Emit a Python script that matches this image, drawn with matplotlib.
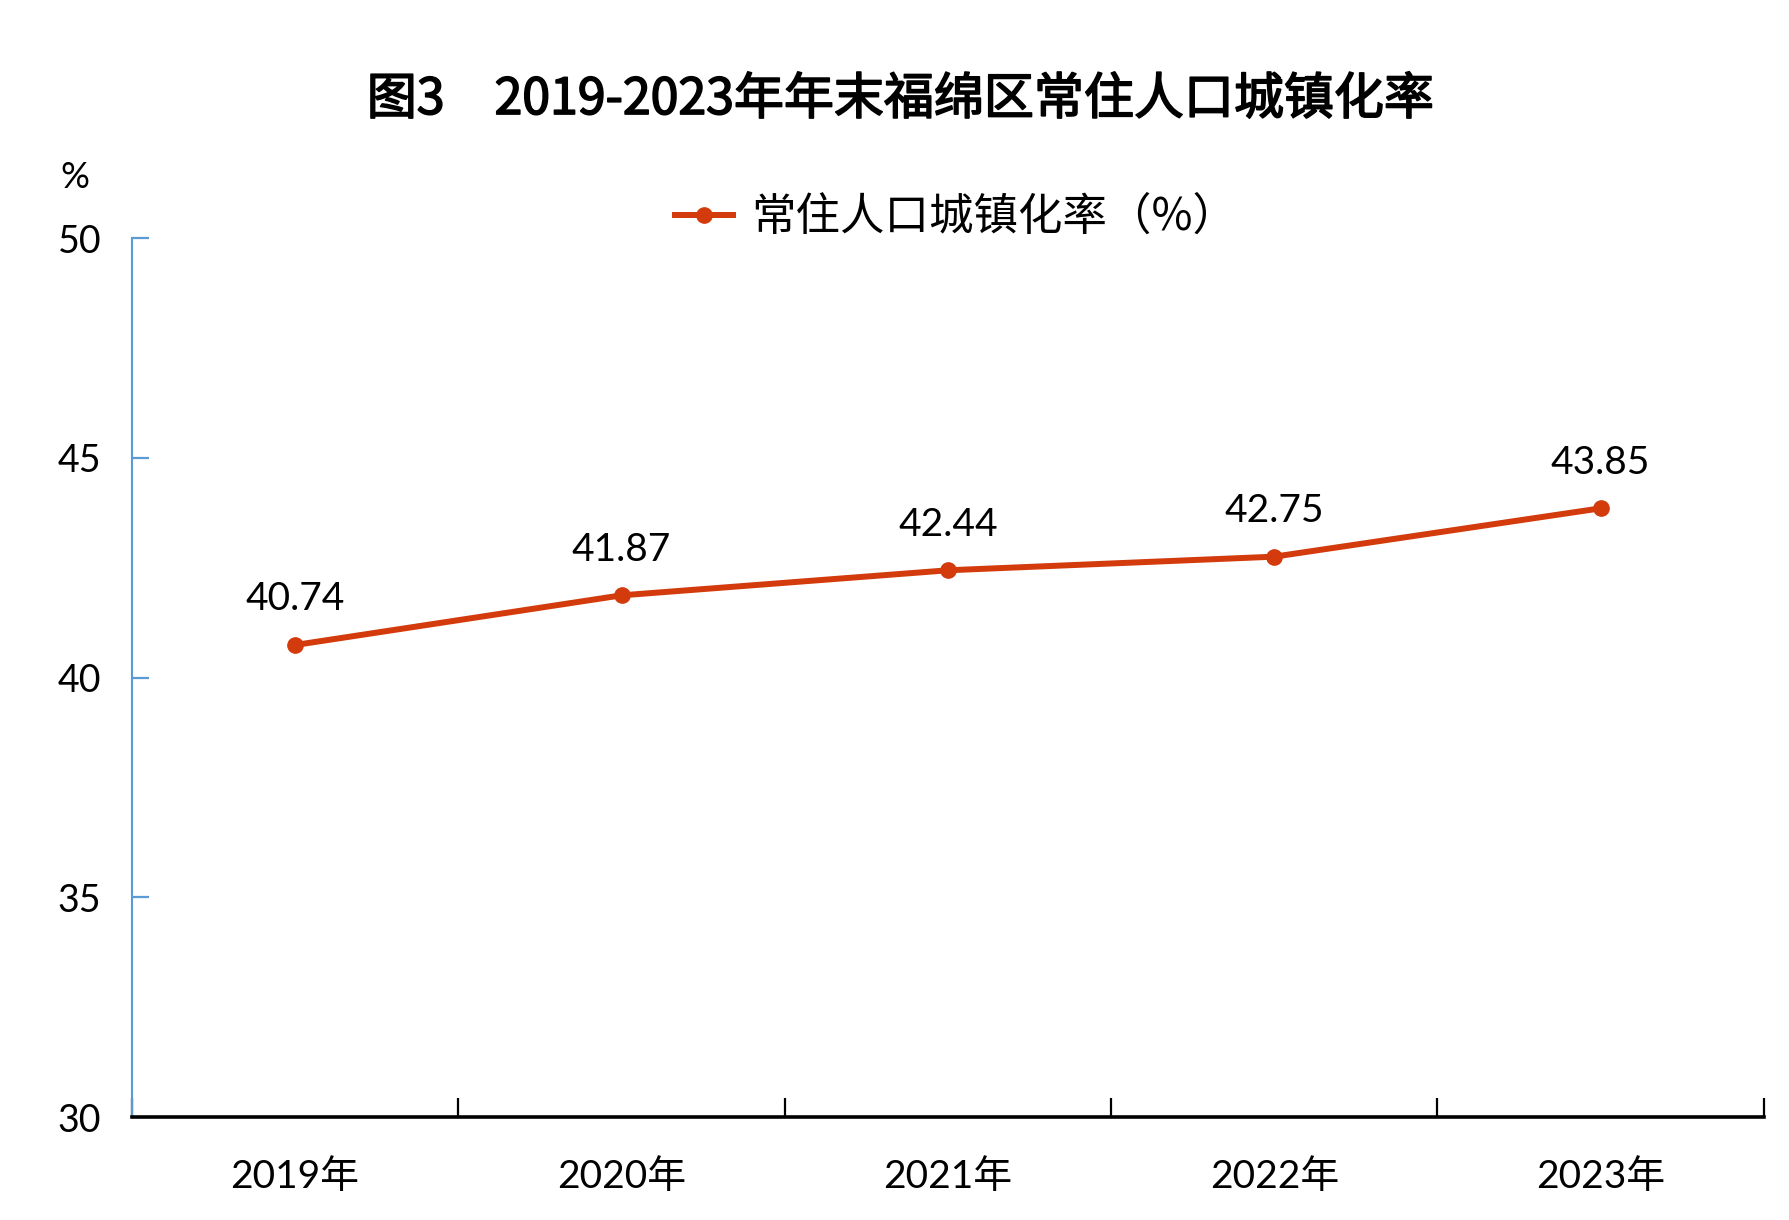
import matplotlib
matplotlib.use('Agg')
import matplotlib.pyplot as plt
import matplotlib.patheffects as pe

years = ['2019年', '2020年', '2021年', '2022年', '2023年']
rates = [40.74, 41.87, 42.44, 42.75, 43.85]
yticks = [30, 35, 40, 45, 50]

plt.rcParams['font.family'] = ['Lato', 'Noto Sans CJK SC', 'DejaVu Sans']

line_color = '#D33A0C'
blue = '#5B9BD5'

fig = plt.figure(figsize=(17.9, 12.2), dpi=100)
ax = fig.add_axes([0.0737, 0.0844, 0.9117, 0.7205])

x = list(range(len(years)))
ax.plot(x, rates, color=line_color, linewidth=4.3, marker='o', markersize=11,
        label='常住人口城镇化率（%）')

# value labels above points
for xi, v in zip(x, rates):
    ax.annotate(f'{v:.2f}', (xi, v), xytext=(0, 25), textcoords='offset points',
                ha='center', va='baseline', fontsize=28, color='black')

ax.set_xlim(-0.5, len(years) - 0.5)
ax.set_ylim(30, 50)
ax.set_yticks(yticks)
ax.set_yticklabels([str(t) for t in yticks])
ax.set_xticks(x)
ax.set_xticklabels(years)
ax.set_xticks([i - 0.5 for i in range(len(years) + 1)], minor=True)

ax.tick_params(axis='x', which='major', length=0, labelsize=28, pad=30)
ax.tick_params(axis='x', which='minor', direction='in', length=14, width=1.6, color='black')
ax.tick_params(axis='y', direction='in', length=12, width=1.6, color=blue,
               labelsize=27, pad=22)

ax.spines['top'].set_visible(False)
ax.spines['right'].set_visible(False)
ax.spines['left'].set_color(blue)
ax.spines['left'].set_linewidth(1.5)
ax.spines['bottom'].set_color('black')
ax.spines['bottom'].set_linewidth(2.6)

title = fig.text(0.503, 0.918, '图3\u30002019-2023年年末福绵区常住人口城镇化率',
                 ha='center', va='center', fontsize=36, fontweight='normal',
                 family=['Noto Sans CJK SC', 'DejaVu Sans'])
title.set_path_effects([pe.withStroke(linewidth=1.2, foreground='black')])
fig.text(75 / 1790, 1 - 177 / 1220, '%', ha='center', va='center', fontsize=26)

fig.legend(loc='center', bbox_to_anchor=(956 / 1790, 0.822), frameon=False,
           handlelength=1.3, handletextpad=0.4,
           prop={'family': ['Noto Sans CJK SC', 'DejaVu Sans'], 'size': 32})

fig.savefig('out.png', dpi=100)
